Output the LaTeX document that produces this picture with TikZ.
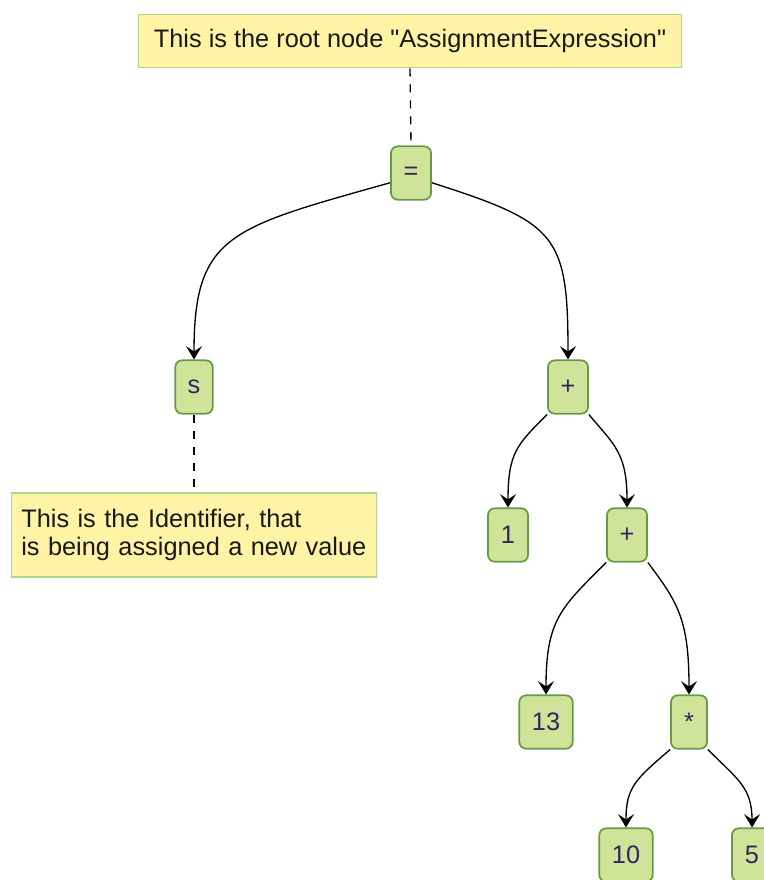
\documentclass[tikz,border=0pt]{standalone}
\usepackage{fontspec}
\setmainfont{Liberation Sans}
\usetikzlibrary{arrows.meta}

\definecolor{termfill}{RGB}{207,227,153}
\definecolor{termline}{RGB}{104,152,74}
\definecolor{termtext}{RGB}{48,38,98}
\definecolor{notefill}{RGB}{255,243,166}
\definecolor{noteline}{RGB}{178,212,140}

\tikzset{
    term/.style={draw=termline, fill=termfill, line width=1.3pt, rounded corners=5pt,
        minimum height=40pt, inner sep=0pt, text=termtext, font=\fontsize{19}{21}\selectfont},
    note/.style={draw=noteline, fill=notefill, line width=1.1pt, inner sep=0pt,
        font=\fontsize{19}{21}\selectfont, text=black!90},
    edge/.style={line width=1pt, -{Stealth[length=10pt,width=12pt,inset=4pt]}},
    notelink/.style={line width=1pt, dash pattern=on 6pt off 6pt}
}

\begin{document}
\begin{tikzpicture}[x=0.75pt, y=-0.75pt]
                \useasboundingbox (0,0) rectangle (763,880);

                % the comments
                \node [note, minimum width=407pt, minimum height=40pt] (rootnote) at (410,41) {This is the root node \textquotedbl AssignmentExpression\textquotedbl};
                \node [note, minimum width=274pt, minimum height=63pt, align=left, text width=259pt] (idnote) at (194,535)
                    {This is the Identifier, that\\is being assigned a new value};

                % the tree
                \node [term, minimum width=30pt] (assign) at (411,173) {=};
                \node [term, minimum width=28pt] (ident) at (194,387) {s};
                \node [term, minimum width=30pt] (plusa) at (568,387) {+};
                \node [term, minimum width=30pt] (one) at (508,535) {1};
                \node [term, minimum width=30pt] (plusb) at (627,535) {+};
                \node [term, minimum width=40pt] (thirteen) at (546,722) {13};
                \node [term, minimum width=27pt] (times) at (689,722) {*};
                \node [term, minimum width=40pt] (ten) at (626,855) {10};
                \node [term, minimum width=30pt] (five) at (752,855) {5};

                \draw [notelink] (rootnote.south) -- (assign.north);
                \draw [notelink] (ident.south) -- (idnote.north);

                \draw [edge] (assign.205) .. controls +(-160,45) and +(0,-125) .. (ident.north);
                \draw [edge] (assign.335) .. controls +(125,40) and +(0,-125) .. (plusa.north);
                \draw [edge] (plusa.south west) .. controls +(-30,30) and +(0,-55) .. (one.north);
                \draw [edge] (plusa.south east) .. controls +(25,30) and +(0,-55) .. (plusb.north);
                \draw [edge] (plusb.south west) .. controls +(-45,45) and +(0,-75) .. (thirteen.north);
                \draw [edge] (plusb.south east) .. controls +(30,40) and +(0,-75) .. (times.north);
                \draw [edge] (times.south west) .. controls +(-35,30) and +(0,-40) .. (ten.north);
                \draw [edge] (times.south east) .. controls +(30,30) and +(0,-40) .. (five.north);
            \end{tikzpicture}
\end{document}
